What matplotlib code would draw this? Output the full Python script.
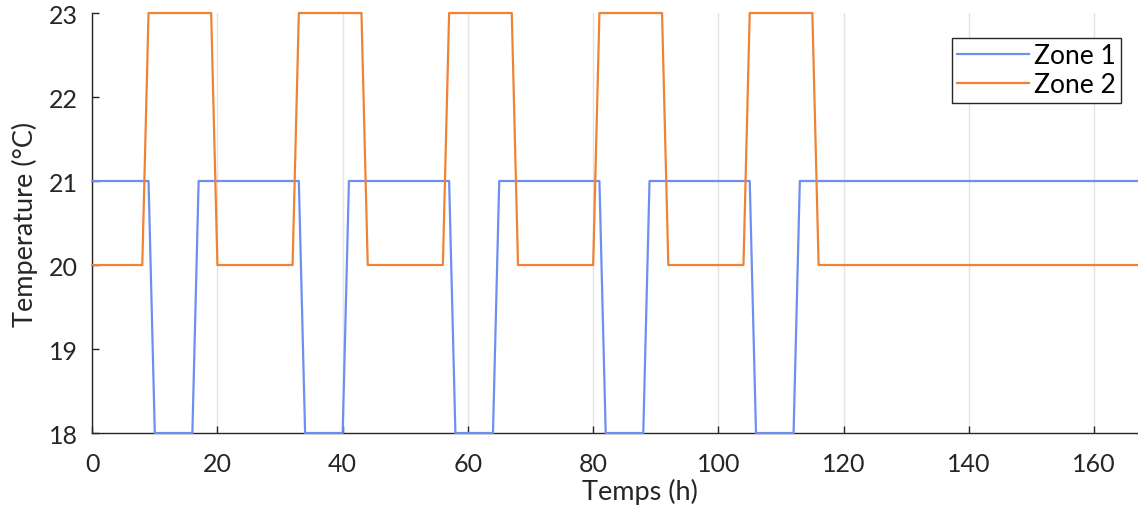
import matplotlib
matplotlib.use("Agg")
import matplotlib.pyplot as plt

# hourly profile, given as the hours where the setpoint changes
zone1_hours = [0, 9, 10, 16, 17, 33, 34, 40, 41, 57, 58, 64, 65, 81, 82, 88, 89,
               105, 106, 112, 113, 167]
zone1_temp = [21, 21, 18, 18, 21, 21, 18, 18, 21, 21, 18, 18, 21, 21, 18, 18, 21,
              21, 18, 18, 21, 21]

zone2_hours = [0, 8, 9, 19, 20, 32, 33, 43, 44, 56, 57, 67, 68, 80, 81, 91, 92,
               104, 105, 115, 116, 167]
zone2_temp = [20, 20, 23, 23, 20, 20, 23, 23, 20, 20, 23, 23, 20, 20, 23, 23, 20,
              20, 23, 23, 20, 20]

x_ticks = [0, 20, 40, 60, 80, 100, 120, 140, 160]
y_ticks = [18, 19, 20, 21, 22, 23]

plt.rcParams['font.family'] = ['Lato', 'DejaVu Sans']

fig = plt.figure(figsize=(11.38, 5.10), dpi=100)
ax = fig.add_axes([0.081, 0.149, 0.919, 0.8235])

ax.plot(zone1_hours, zone1_temp, color='#6f8ff0', lw=1.6, label='Zone 1', clip_on=False, zorder=3)
ax.plot(zone2_hours, zone2_temp, color='#f08236', lw=1.6, label='Zone 2', clip_on=False, zorder=3)

ax.set_xlim(0, 167)
ax.set_ylim(18, 23)
ax.set_xticks(x_ticks)
ax.set_yticks(y_ticks)
ax.grid(axis='x', color='#e3e3e3', lw=1)
ax.set_axisbelow(True)

for s in ['top', 'right']:
    ax.spines[s].set_visible(False)
for s in ['left', 'bottom']:
    ax.spines[s].set_color('#262626')
    ax.spines[s].set_linewidth(1)
ax.tick_params(direction='in', length=5, width=1, colors='#262626', labelsize=18)
ax.tick_params(axis='x', pad=14)
ax.tick_params(axis='y', pad=10)

ax.set_xlabel('Temps (h)', fontsize=19.5, color='#262626')
ax.set_ylabel('Temperature (°C)', fontsize=19.5, color='#262626')
ax.xaxis.set_label_coords(0.524, -0.108)
ax.yaxis.set_label_coords(-0.052, 0.5)

leg = ax.legend(loc='upper right', bbox_to_anchor=(0.9837, 0.9405), fontsize=19, fancybox=False,
                framealpha=1, edgecolor='#262626', handlelength=2.7, handletextpad=0.2,
                borderpad=0.2, labelspacing=0.15, borderaxespad=0)
leg.get_frame().set_linewidth(1)

fig.savefig('out.png', dpi=100)
